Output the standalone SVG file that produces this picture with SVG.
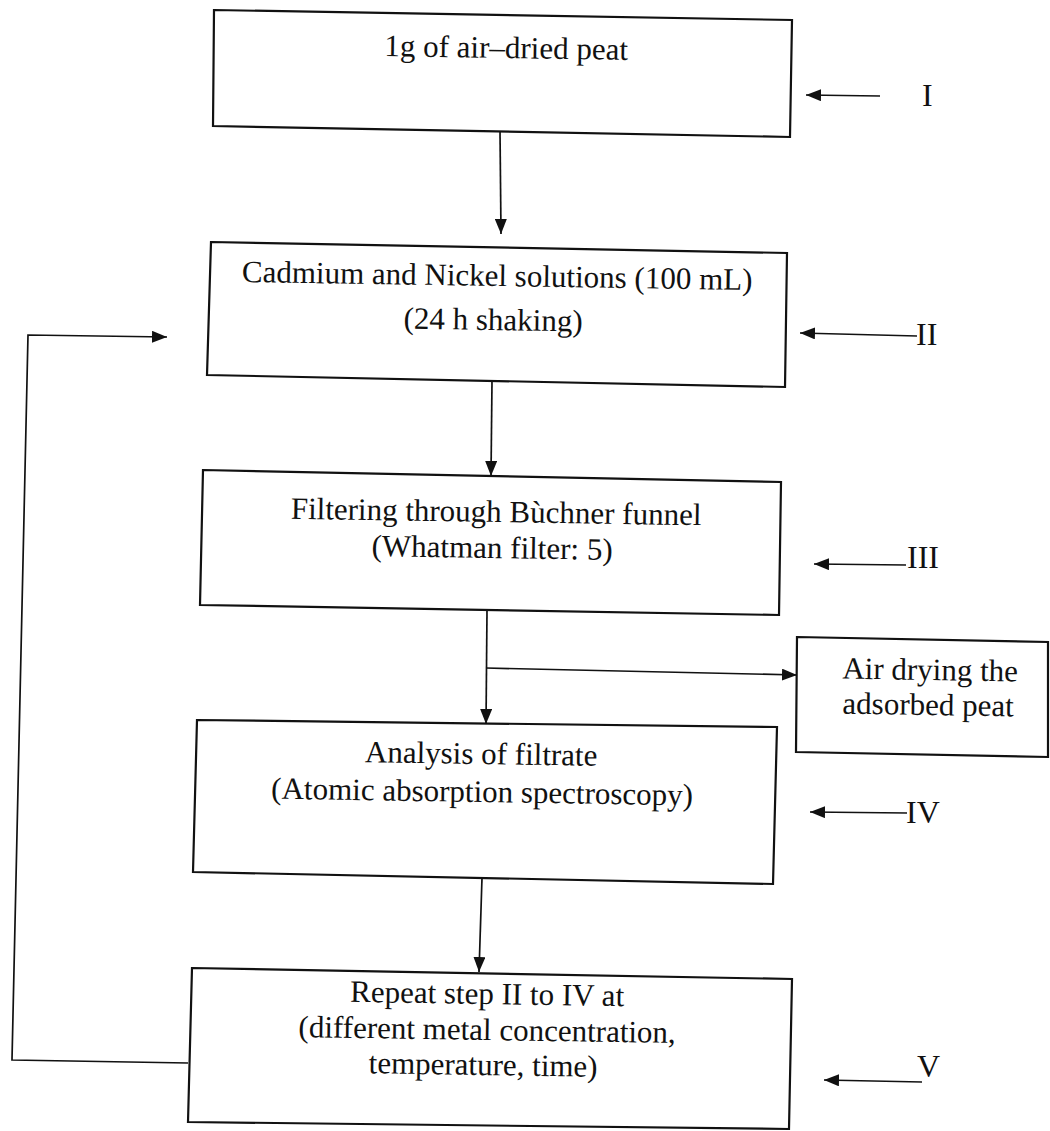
<svg xmlns="http://www.w3.org/2000/svg" width="1050" height="1131" viewBox="0 0 1050 1131">
<style>
.box{fill:none;stroke:#111;stroke-width:2.2;stroke-linejoin:miter}
.t{font-family:"Liberation Serif","Times New Roman",serif;font-size:31px;fill:#111;text-anchor:middle}
.lbl{font-family:"Liberation Serif","Times New Roman",serif;font-size:32px;fill:#111}
.c{fill:none;stroke:#111;stroke-width:1.7}
</style>
<defs>
<marker id="ah" viewBox="0 0 15 12" refX="15" refY="6" markerWidth="15" markerHeight="12" markerUnits="userSpaceOnUse" orient="auto"><path d="M0,0 L15,6 L0,12 z" fill="#111"/></marker>
</defs>
<rect width="1050" height="1131" fill="#fff"/>
<g id="node-I">
<polygon class="box" points="214,10 792,20 790,137 213,126"/>
<text class="t" x="506" y="58" transform="rotate(0.9 506 58)">1g of air–dried peat</text>
</g>
<g id="node-II">
<polygon class="box" points="211,242 787,253 785,387 207,375"/>
<text class="t" x="497" y="286" transform="rotate(0.9 497 286)">Cadmium and Nickel solutions (100 mL)</text>
<text class="t" x="493" y="330" transform="rotate(0.9 493 330)">(24 h shaking)</text>
</g>
<g id="node-III">
<polygon class="box" points="203,470 781,482 779,615 200,605"/>
<text class="t" x="496" y="522" transform="rotate(0.9 496 522)">Filtering through Bùchner funnel</text>
<text class="t" x="492" y="558" transform="rotate(0.9 492 558)">(Whatman filter: 5)</text>
</g>
<g id="node-air">
<polygon class="box" points="797,637 1048,642 1048,757 796,752"/>
<text class="t" x="930" y="680" transform="rotate(0.9 930 680)">Air drying the</text>
<text class="t" x="928" y="715" transform="rotate(0.9 928 715)">adsorbed peat</text>
</g>
<g id="node-IV">
<polygon class="box" points="197,720 777,727 773,884 193,872"/>
<text class="t" x="481" y="764" transform="rotate(0.9 481 764)">Analysis of filtrate</text>
<text class="t" x="482" y="802" transform="rotate(0.9 482 802)">(Atomic absorption spectroscopy)</text>
</g>
<g id="node-V">
<polygon class="box" points="192,968 792,979 789,1129 188,1122"/>
<text class="t" x="487" y="1004" transform="rotate(0.9 487 1004)">Repeat step II to IV at</text>
<text class="t" x="487" y="1040" transform="rotate(0.9 487 1040)">(different metal concentration,</text>
<text class="t" x="483" y="1075" transform="rotate(0.9 483 1075)">temperature, time)</text>
</g>
<g id="labels">
<line class="c" x1="880" y1="96" x2="806" y2="95" marker-end="url(#ah)"/>
<text class="lbl" x="922" y="106">I</text>
<line class="c" x1="917" y1="336" x2="800" y2="333" marker-end="url(#ah)"/>
<text class="lbl" x="916" y="345">II</text>
<line class="c" x1="906" y1="565" x2="814" y2="564" marker-end="url(#ah)"/>
<text class="lbl" x="907" y="568">III</text>
<line class="c" x1="907" y1="813" x2="810" y2="812" marker-end="url(#ah)"/>
<text class="lbl" x="906" y="823">IV</text>
<line class="c" x1="922" y1="1082" x2="824" y2="1080" marker-end="url(#ah)"/>
<text class="lbl" x="917" y="1077">V</text>
</g>
<g id="connectors">
<line class="c" x1="500" y1="131" x2="501" y2="234" marker-end="url(#ah)"/>
<line class="c" x1="492" y1="381" x2="491" y2="476" marker-end="url(#ah)"/>
<line class="c" x1="487" y1="611" x2="486" y2="724" marker-end="url(#ah)"/>
<line class="c" x1="486" y1="668" x2="797" y2="675" marker-end="url(#ah)"/>
<line class="c" x1="482" y1="878" x2="479" y2="972" marker-end="url(#ah)"/>
<polyline class="c" points="188,1063 12,1060 28,335 167,337" marker-end="url(#ah)"/>
</g>
</svg>
